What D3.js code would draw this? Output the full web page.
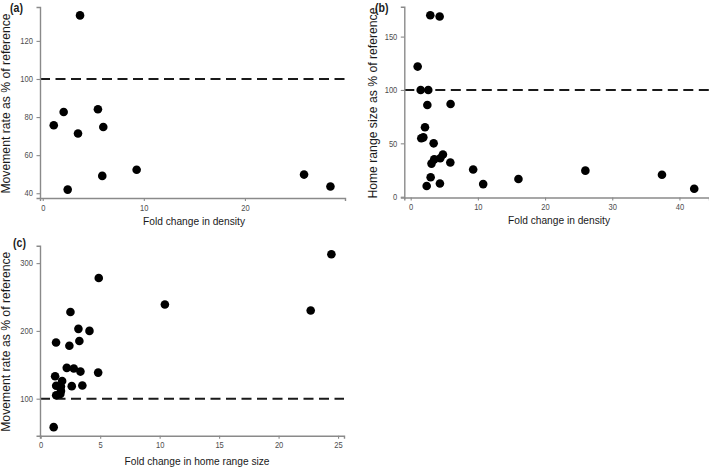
<!DOCTYPE html>
<html><head><meta charset="utf-8">
<script src="https://cdn.jsdelivr.net/npm/d3@7"></script>
<style>
body{margin:0;background:#fff;}
text{font-family:"Liberation Sans",Arial,sans-serif;}
</style></head>
<body><svg id="c" width="709" height="469"></svg>
<script>
// Panel (a): fold change in density vs movement rate (% of reference)
const aX = [3.69, 1.09, 2.07, 3.49, 5.46, 5.99, 2.47, 5.89, 9.29, 25.85, 28.46];
const aY = [133.4, 75.7, 82.7, 71.4, 84.1, 74.8, 41.9, 49.1, 52.3, 49.8, 43.5];
// Panel (b): fold change in density vs home range size (% of reference)
const bX = [2.92, 4.31, 1.04, 1.49, 2.62, 2.48, 5.94, 2.13, 1.58, 1.88, 3.42, 3.1, 3.5, 4.4, 4.8, 5.9, 2.97, 2.38, 4.35, 9.3, 10.79, 16.04, 26.0, 37.4, 42.2];
const bY = [170, 168.8, 121.9, 100, 100, 85.9, 86.9, 65, 54.7, 55.6, 50, 31, 35, 36, 39.5, 32, 18.2, 10, 12.4, 25.5, 11.8, 16.6, 24.4, 20.6, 7.5];
// Panel (c): fold change in home range size vs movement rate (% of reference)
const cX = [24.44, 4.88, 10.44, 22.7, 2.5, 3.17, 4.1, 1.29, 3.25, 2.41, 2.19, 2.78, 3.34, 4.83, 1.21, 1.8, 1.3, 1.7, 2.61, 3.5, 1.7, 1.3, 1.65, 1.09];
const cY = [313, 278, 239, 230, 228, 203, 200, 183, 185, 178, 145.5, 144.5, 140, 138.5, 133, 126, 119, 118, 118.5, 119.5, 111.5, 105, 107, 58];

const aXTicks = [0, 10, 20], aYTicks = [40, 60, 80, 100, 120];
const bXTicks = [0, 10, 20, 30, 40], bYTicks = [0, 50, 100, 150];
const cXTicks = [0, 5, 10, 15, 20, 25], cYTicks = [100, 200, 300];

const svg = d3.select("#c");
const SX = 0.88; // horizontal squeeze of glyphs seen in the reference

function panel(o){
  const g = svg.append("g");
  const x = d3.scaleLinear().domain(o.xd).range([o.x0, o.x1]);
  const y = d3.scaleLinear().domain(o.yd).range([o.y1, o.y0]);
  const clipId = "clip" + o.id;
  g.append("clipPath").attr("id", clipId).append("rect")
    .attr("x", o.x0).attr("y", o.y0 - 10).attr("width", o.x1 - o.x0 + 10).attr("height", o.y1 - o.y0 + 10);
  // reference line
  g.append("line").attr("x1", o.x0).attr("x2", o.x1).attr("y1", y(100)).attr("y2", y(100))
    .attr("stroke", "#1a1a1a").attr("stroke-width", 2).attr("stroke-dasharray", "10,5.5");
  // axes
  const xa = g.append("g").attr("transform", `translate(0,${o.y1})`)
    .call(d3.axisBottom(x).tickValues(o.xt).tickSize(3).tickPadding(3.5).tickFormat(d3.format("d")));
  const ya = g.append("g").attr("transform", `translate(${o.x0},0)`)
    .call(d3.axisLeft(y).tickValues(o.yt).tickSize(3.5).tickPadding(3.5).tickFormat(d3.format("d")));
  [xa, ya].forEach(a => {
    a.select(".domain").attr("stroke", "#8a8a8a").attr("stroke-width", 1.4);
    a.selectAll(".tick line").attr("stroke", "#8a8a8a").attr("stroke-width", 1.1);
    a.selectAll(".tick text").attr("fill", "#4d4d4d").style("font-size", "8.6px")
      .style("font-family", "'Liberation Sans',Arial,sans-serif");
  });
  xa.selectAll(".tick text").attr("transform", `scale(${SX},1)`);
  ya.selectAll(".tick text").attr("x", 0).attr("transform", `translate(-7,0) scale(${SX},1)`);
  // points
  g.append("g").attr("clip-path", `url(#${clipId})`).selectAll("circle").data(o.xs.map((v, i) => [v, o.ys[i]]))
    .join("circle").attr("cx", d => x(d[0])).attr("cy", d => y(d[1])).attr("r", 4.3).attr("fill", "#000");
  // titles
  g.append("text").attr("transform", `translate(${o.xlx},${o.xly}) scale(${SX},1)`).attr("text-anchor", "middle")
    .style("font-size", "11.6px").attr("fill", "#1a1a1a").text(o.xlab);
  g.append("text").attr("transform", `translate(${o.ylx},${(o.y0 + o.y1) / 2 + 1}) rotate(-90)`)
    .attr("text-anchor", "middle").style("font-size", "12.2px").attr("fill", "#1a1a1a").text(o.ylab);
  g.append("text").attr("transform", `translate(${o.tx},${o.ty}) scale(${SX},1)`)
    .style("font-size", "12px").style("font-weight", "bold").attr("fill", "#1a1a1a").text(o.tag);
}

panel({id:"a", tag:"(a)", xs:aX, ys:aY, xd:[-0.27, 29.9], yd:[37.5, 137.8], x0:40, x1:345, y0:7, y1:198,
  xt:aXTicks, yt:aYTicks, xlab:"Fold change in density", ylab:"Movement rate as % of reference",
  xlx:194, xly:225, ylx:10, tx:10, ty:12});
panel({id:"b", tag:"(b)", xs:bX, ys:bY, xd:[-0.95, 44.4], yd:[-0.75, 178], x0:404.3, x1:709, y0:6.7, y1:197.5,
  xt:bXTicks, yt:bYTicks, xlab:"Fold change in density", ylab:"Home range size as % of reference",
  xlx:559, xly:224, ylx:377, tx:375, ty:12});
panel({id:"c", tag:"(c)", xs:cX, ys:cY, xd:[-0.06, 25.5], yd:[45.4, 325.7], x0:40, x1:344, y0:245.7, y1:435.7,
  xt:cXTicks, yt:cYTicks, xlab:"Fold change in home range size", ylab:"Movement rate as % of reference",
  xlx:197, xly:465, ylx:10, tx:13, ty:247});
</script></body></html>
